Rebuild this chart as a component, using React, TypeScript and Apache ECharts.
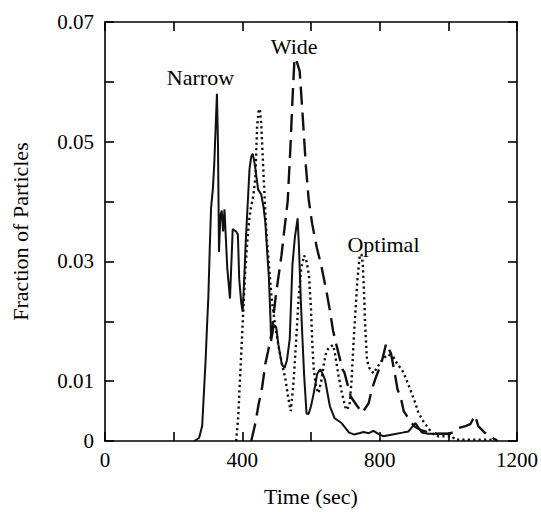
import React, { useEffect, useRef } from "react";
import * as echarts from "echarts";

// Narrow (solid)
const narrow: [number, number][] = [
  [260, 0], [274, 0.0005], [283, 0.0025], [288, 0.008], [293, 0.0135], [297, 0.019],
  [301, 0.024], [305, 0.032], [309, 0.039], [314, 0.042], [318, 0.046], [322, 0.052],
  [326, 0.058], [329, 0.05], [332, 0.0316], [336, 0.0376], [340, 0.0385], [344, 0.035],
  [348, 0.0387], [356, 0.029], [364, 0.0238], [372, 0.0354], [382, 0.035], [387, 0.0345],
  [391, 0.027], [397, 0.023], [401, 0.0216], [406, 0.0277], [410, 0.0334], [416, 0.04],
  [421, 0.0455], [426, 0.0475], [430, 0.048], [434, 0.047], [438, 0.0455], [446, 0.042],
  [455, 0.0412], [462, 0.039], [467, 0.0365], [473, 0.031], [477, 0.0277], [481, 0.022],
  [484, 0.0167], [488, 0.018], [492, 0.0194], [499, 0.0189], [505, 0.0161], [515, 0.0128],
  [523, 0.0122], [530, 0.0135], [538, 0.017], [546, 0.0295], [553, 0.034], [561, 0.0372],
  [565, 0.0323], [570, 0.024], [574, 0.0185], [580, 0.011], [587, 0.0046], [593, 0.0045],
  [600, 0.0058], [608, 0.008], [618, 0.0112], [627, 0.012], [634, 0.0112], [641, 0.0102],
  [655, 0.0058], [669, 0.0038], [689, 0.003], [700, 0.0022], [711, 0.0014], [725, 0.0011],
  [740, 0.0013], [753, 0.0015], [768, 0.0013], [782, 0.0017], [796, 0.0012], [810, 0.0008],
  [838, 0.0011], [866, 0.0014], [884, 0.0016], [904, 0.003], [923, 0.0014], [941, 0.0012],
  [970, 0.0012], [1008, 0.0012],
];

// Wide (dashed)
const wide: [number, number][] = [
  [426, 0], [438, 0.003], [447, 0.006], [458, 0.0091], [467, 0.0129], [475, 0.015],
  [485, 0.018], [498, 0.0245], [514, 0.031], [523, 0.0356], [532, 0.04], [540, 0.049],
  [546, 0.057], [552, 0.064], [558, 0.0635], [567, 0.0618], [575, 0.055], [585, 0.046],
  [593, 0.0405], [603, 0.0364], [617, 0.0323], [631, 0.029], [645, 0.025], [655, 0.0218],
  [664, 0.0185], [673, 0.0163], [692, 0.0119], [697, 0.0115], [716, 0.0074], [735, 0.0058],
  [749, 0.0047], [768, 0.0063], [777, 0.0086], [790, 0.0108], [805, 0.013], [819, 0.0163],
  [833, 0.0146], [845, 0.011], [852, 0.0086], [861, 0.0074], [870, 0.005], [880, 0.0041],
  [900, 0.0025], [920, 0.0018], [940, 0.0015], [970, 0.0012], [1000, 0.0012], [1020, 0.0016],
  [1031, 0.0022], [1050, 0.0025], [1064, 0.0028], [1078, 0.0043], [1087, 0.0025],
  [1106, 0.0014], [1129, 0.0005], [1144, 0],
];

// Optimal (dotted)
const optimal: [number, number][] = [
  [382, 0], [388, 0.004], [393, 0.01], [398, 0.016], [403, 0.022], [408, 0.028],
  [414, 0.033], [420, 0.037], [425, 0.039], [432, 0.041], [438, 0.044], [443, 0.0525],
  [447, 0.055], [451, 0.0555], [455, 0.053], [459, 0.048], [463, 0.043], [467, 0.038],
  [471, 0.034], [478, 0.029], [485, 0.024], [495, 0.0195], [505, 0.016], [515, 0.013],
  [525, 0.0105], [533, 0.0075], [541, 0.005], [548, 0.009], [556, 0.016], [564, 0.024],
  [572, 0.029], [580, 0.031], [587, 0.03], [594, 0.0278], [600, 0.022], [604, 0.016],
  [608, 0.012], [615, 0.009], [622, 0.008], [630, 0.01], [638, 0.013], [645, 0.015],
  [655, 0.0158], [665, 0.016], [670, 0.0145], [680, 0.011], [690, 0.008], [702, 0.0052],
  [712, 0.0058], [718, 0.01], [725, 0.0175], [735, 0.0268], [742, 0.031], [747, 0.0312],
  [751, 0.0295], [755, 0.024], [758, 0.019], [763, 0.0135], [770, 0.0122], [782, 0.0113],
  [795, 0.0125], [810, 0.0138], [825, 0.0145], [840, 0.014], [852, 0.0128], [866, 0.0118],
  [876, 0.0105], [890, 0.0085], [904, 0.0063], [913, 0.0047], [927, 0.0033], [941, 0.0022],
  [955, 0.0012], [970, 0.0008], [1010, 0.0008], [1020, 0.0002], [1140, 0.0002],
];

const seriesNames = ["Narrow", "Wide", "Optimal"];
// annotation anchor positions in data units [time, fraction]
const labelAnchors: [number, number][] = [[278, 0.0607], [551, 0.0659], [811, 0.0328]];

const xLabelled = [0, 400, 800, 1200];
const yLabelled = ["0", "0.01", "0.03", "0.05", "0.07"];

const FONT = "'Liberation Serif', 'Times New Roman', serif";

export default function App() {
  const ref = useRef<HTMLDivElement>(null);
  useEffect(() => {
    if (!ref.current) return;
    const chart = echarts.init(ref.current, undefined, { renderer: "svg" });
    const axisLine = { show: true, onZero: false, lineStyle: { color: "#000", width: 1.6 } };
    const axisTick = { show: true, inside: true, length: 9, lineStyle: { color: "#000", width: 1.6 } };
    const dataSets = [narrow, wide, optimal];
    const lineTypes: any[] = ["solid", [18, 8], [2.2, 3.2]];
    const widths = [2, 2.4, 2.4];
    chart.setOption({
      animation: false,
      backgroundColor: "#fff",
      grid: { left: 105, right: 11, top: 22, bottom: 67, containLabel: false },
      xAxis: [
        {
          type: "value", min: 0, max: 1200, interval: 200, position: "bottom",
          name: "Time (sec)", nameLocation: "middle", nameGap: 44,
          nameTextStyle: { fontFamily: FONT, fontSize: 22, color: "#000" },
          axisLine, axisTick, splitLine: { show: false },
          axisLabel: {
            margin: 8, fontFamily: FONT, fontSize: 21, color: "#000",
            formatter: (v: number) => (xLabelled.includes(Math.round(v)) ? String(Math.round(v)) : ""),
          },
        },
        {
          type: "value", min: 0, max: 1200, interval: 200, position: "top",
          axisLine, axisTick, splitLine: { show: false }, axisLabel: { show: false },
        },
      ],
      yAxis: [
        {
          type: "value", min: 0, max: 0.07, interval: 0.01, position: "left",
          name: "Fraction of Particles", nameLocation: "middle", nameGap: 74,
          nameTextStyle: { fontFamily: FONT, fontSize: 22, color: "#000" },
          axisLine, axisTick, splitLine: { show: false },
          axisLabel: {
            margin: 11, fontFamily: FONT, fontSize: 21, color: "#000",
            formatter: (v: number) => {
              const s = v === 0 ? "0" : String(Math.round(v * 100) / 100);
              return yLabelled.includes(s) ? s : "";
            },
          },
        },
        {
          type: "value", min: 0, max: 0.07, interval: 0.01, position: "right",
          axisLine, axisTick, splitLine: { show: false }, axisLabel: { show: false },
        },
      ],
      series: dataSets.map((d, i) => ({
        name: seriesNames[i],
        type: "line",
        xAxisIndex: 0,
        yAxisIndex: 0,
        data: d,
        showSymbol: false,
        symbol: "none",
        lineStyle: { color: "#111", width: widths[i], type: lineTypes[i] },
        markPoint: {
          symbol: "circle",
          symbolSize: 0,
          silent: true,
          data: [{ coord: labelAnchors[i], value: seriesNames[i] }],
          label: {
            show: true, position: "inside", formatter: seriesNames[i],
            fontFamily: FONT, fontSize: 22, color: "#000",
          },
        },
      })),
    });
    return () => chart.dispose();
  }, []);
  return (
    <div
      ref={ref}
      style={{ position: "fixed", left: 0, top: 0, width: 541, height: 512, background: "#fff" }}
    />
  );
}
